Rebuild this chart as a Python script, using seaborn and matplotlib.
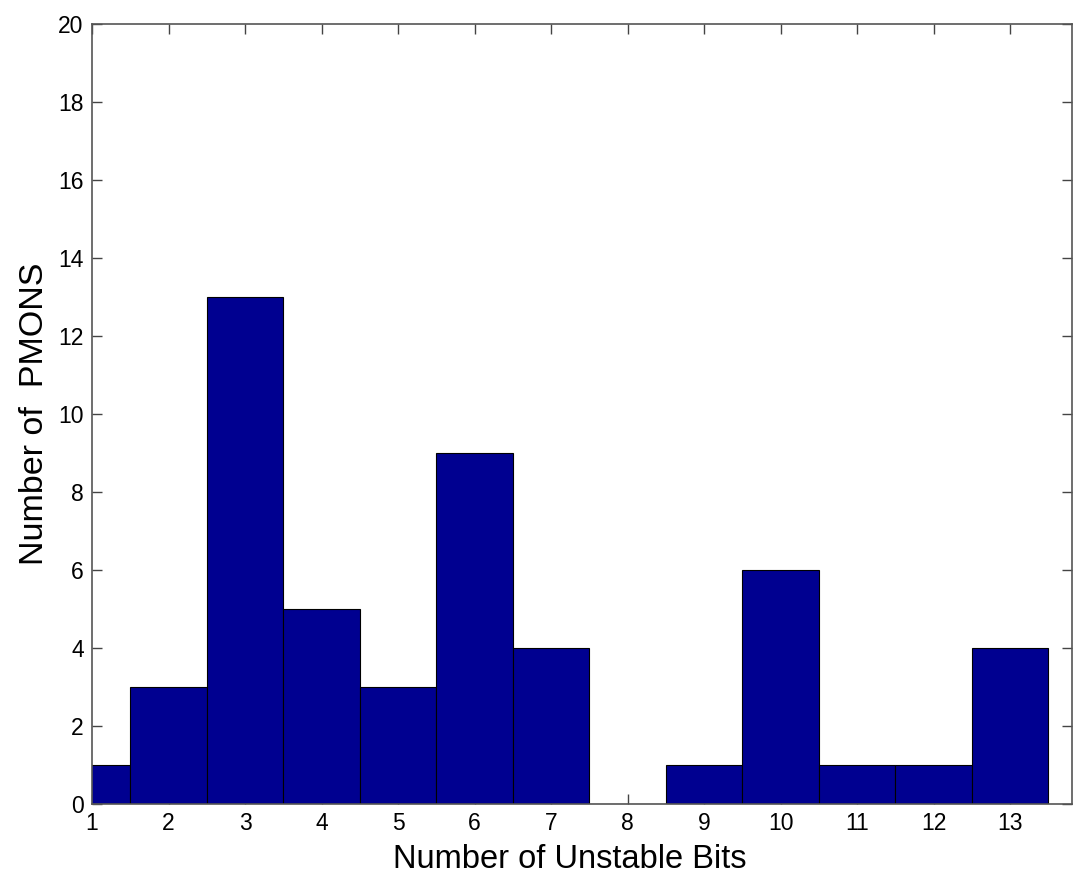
import matplotlib
matplotlib.use('Agg')
import matplotlib.pyplot as plt
import seaborn as sns
import numpy as np

# unstable bits per PMON -> number of PMONs
unstable_bits = [1, 2, 3, 4, 5, 6, 7, 8, 9, 10, 11, 12, 13]
num_pmons = [1, 3, 13, 5, 3, 9, 4, 0, 1, 6, 1, 1, 4]
x_ticks = list(range(1, 14))
y_ticks = list(range(0, 21, 2))

sns.set_style('ticks')
plt.rcParams['font.family'] = ['Liberation Sans', 'DejaVu Sans']

fig, ax = plt.subplots(figsize=(10.76, 8.8), dpi=100)
sns.histplot(x=unstable_bits, weights=num_pmons, discrete=True, ax=ax,
             color='#000090', alpha=1, edgecolor='black', linewidth=0.8)

ax.set_xlim(1, 13.81)
ax.set_ylim(0, 20)
ax.set_xticks(x_ticks)
ax.set_yticks(y_ticks)
ax.tick_params(direction='in', length=7, width=1, top=True, right=True,
               labelsize=16.5, labelcolor='black', color='#444444', pad=6)
for s in ax.spines.values():
    s.set_color('#555555')
    s.set_linewidth(1.2)
ax.set_xlabel('Number of Unstable Bits', fontsize=23.5, color='black')
ax.set_ylabel('Number of  PMONS', fontsize=24.5, labelpad=6, color='black')
ax.xaxis.set_label_coords(0.488, -0.051, transform=ax.transAxes)
ax.xaxis.label.set_va('top')

fig.subplots_adjust(left=0.0855, right=0.9963, top=0.9727, bottom=0.0864)
fig.savefig('out.png', dpi=100)
plt.close(fig)
